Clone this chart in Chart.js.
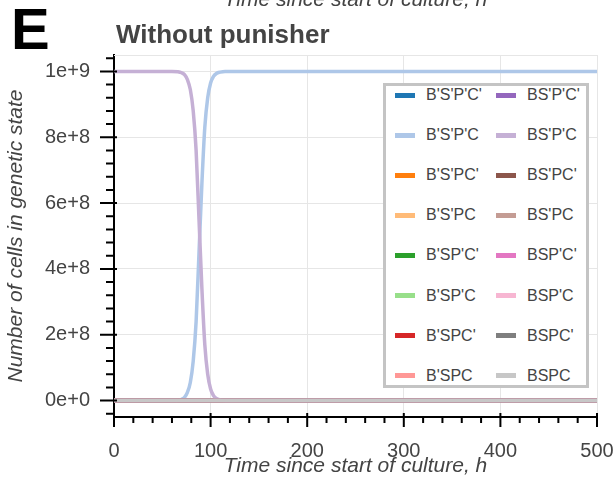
<!DOCTYPE html>
<html>
<head>
<meta charset="utf-8">
<script src="https://cdn.jsdelivr.net/npm/chart.js@4.4.1/dist/chart.umd.min.js"></script>
<style>
  body { margin: 0; background: #fff; font-family: "Liberation Sans", Arial, sans-serif; }
  #wrap { position: relative; width: 615px; height: 479px; overflow: hidden; }
  #chart { position: absolute; left: 0; top: 0; }
  .txt { position: absolute; line-height: 1; white-space: nowrap; }
  #panel { left: 11px; top: 0px; font-size: 58px; font-weight: bold; color: #000; }
  #title { left: 116px; top: 21px; font-size: 26px; font-weight: bold; color: #444; }
  #prev { left: 0; width: 711px; text-align: center; top: -12px; font-size: 21px; font-style: italic; color: #444; }
  #legend { position: absolute; left: 383px; top: 83px; width: 200px; height: 299px;
            border: 3px solid #c4c4c4; background: #fff; }
  .item { position: absolute; font-size: 16px; color: #444; line-height: 1; }
  .sw { position: absolute; width: 20px; height: 5px; }
</style>
</head>
<body>
<div id="wrap">
  <canvas id="chart" width="615" height="479"></canvas>
  <div class="txt" id="prev">Time since start of culture, h</div>
  <div class="txt" id="panel">E</div>
  <div class="txt" id="title">Without punisher</div>
  <div id="legend"></div>
</div>
<script>
// ==========================
// DATA
// ==========================

const stateLabels = [
    "B'S'P'C'", "B'S'P'C", "B'S'PC'", "B'S'PC",
    "B'SP'C'", "B'SP'C", "B'SPC'", "B'SPC",
    "BS'P'C'", "BS'P'C", "BS'PC'", "BS'PC",
    "BSP'C'", "BSP'C", "BSPC'", "BSPC"
];

const stateColors = [
    "#1f77b4", "#aec7e8", "#ff7f0e", "#ffbb78",
    "#2ca02c", "#98df8a", "#d62728", "#ff9896",
    "#9467bd", "#c5b0d5", "#8c564b", "#c49c94",
    "#e377c2", "#f7b6d2", "#7f7f7f", "#c7c7c7"
];

// hours
const times = [0, 60, 66, 70, 73, 76, 79, 82, 85, 88, 91, 94, 97, 100, 103, 106, 110, 115, 125, 500];

// B'S'P'C (takes over the culture)
const risingCounts = [
    0, 0, 1e6, 4e6, 1e7, 2.5e7, 5.5e7, 1.2e8, 2.4e8, 4.5e8,
    6.6e8, 8.3e8, 9.2e8, 9.65e8, 9.85e8, 9.94e8, 9.98e8, 1e9, 1e9, 1e9
];

// BS'P'C (starting population, dies out)
const fallingCounts = [
    1e9, 1e9, 9.99e8, 9.96e8, 9.9e8, 9.75e8, 9.45e8, 8.8e8, 7.6e8, 5.5e8,
    3.4e8, 1.7e8, 8e7, 3.5e7, 1.5e7, 6e6, 2e6, 0, 0, 0
];

// every other genetic state stays at zero
const zeroCounts = [0, 0, 0, 0, 0, 0, 0, 0, 0, 0, 0, 0, 0, 0, 0, 0, 0, 0, 0, 0];

const xTicks = [0, 100, 200, 300, 400, 500];
const yTicks = [0, 2e8, 4e8, 6e8, 8e8, 1e9];

// ==========================
// CHART
// ==========================

function seriesFor(i) {
    let values = zeroCounts;
    if (i === 1) values = risingCounts;
    if (i === 9) values = fallingCounts;
    return times.map((t, k) => ({ x: t, y: values[k] }));
}

const datasets = stateLabels.map((label, i) => ({
    label: label,
    data: seriesFor(i),
    borderColor: stateColors[i],
    backgroundColor: stateColors[i],
    borderWidth: 3.5,
    pointRadius: 0,
    cubicInterpolationMode: "monotone",
    order: -i
}));

// minor + major ticks, frame top/right
const frameTicks = {
    id: "frameTicks",
    afterDraw(chart) {
        const { ctx, chartArea: a, scales: { x, y } } = chart;
        ctx.save();
        ctx.strokeStyle = "#e6e6e6";
        ctx.lineWidth = 1;
        ctx.beginPath();
        ctx.moveTo(a.left, a.top + 0.5);
        ctx.lineTo(a.right + 0.5, a.top + 0.5);
        ctx.lineTo(a.right + 0.5, a.bottom);
        ctx.stroke();

        ctx.strokeStyle = "#000";
        ctx.lineWidth = 2;
        ctx.beginPath();
        for (let v = 0; v <= 500; v += 20) {
            const px = x.getPixelForValue(v);
            const major = v % 100 === 0;
            ctx.moveTo(px, a.bottom - (major ? 4 : 0));
            ctx.lineTo(px, a.bottom + (major ? 10 : 6));
        }
        for (let v = -4e7; v <= 1.04e9 + 1; v += 4e7) {
            const py = y.getPixelForValue(v);
            const major = Math.abs(v % 2e8) < 1;
            ctx.moveTo(a.left + (major ? 3 : 1), py);
            ctx.lineTo(a.left - (major ? 14 : 8), py);
        }
        ctx.stroke();
        ctx.restore();
    }
};

const tickFont = { family: "'Liberation Sans', Arial, sans-serif", size: 20 };
const titleFont = { family: "'Liberation Sans', Arial, sans-serif", size: 21, style: "italic" };

const chart = new Chart(document.getElementById("chart"), {
    type: "line",
    data: { datasets: datasets },
    options: {
        responsive: false,
        animation: false,
        layout: { padding: { top: 55, right: 18, left: 0, bottom: 0 } },
        plugins: {
            legend: { display: false },
            tooltip: { enabled: false }
        },
        scales: {
            x: {
                type: "linear",
                min: 0,
                max: 500,
                afterBuildTicks: s => { s.ticks = xTicks.map(v => ({ value: v })); },
                afterFit: s => { s.height = 62; s.paddingLeft = 0; s.paddingRight = 0; },
                grid: { color: "#e6e6e6", drawTicks: false },
                border: { display: true, color: "#000", width: 2 },
                ticks: { color: "#444", font: tickFont, padding: 22, maxRotation: 0 },
                title: {
                    display: true,
                    text: "Time since start of culture, h",
                    color: "#444",
                    font: titleFont,
                    padding: 0
                }
            },
            y: {
                type: "linear",
                min: -5e7,
                max: 1.05e9,
                afterBuildTicks: s => { s.ticks = yTicks.map(v => ({ value: v })); },
                afterFit: s => { s.width = 114; },
                grid: { color: "#e6e6e6", drawTicks: false },
                border: { display: true, color: "#000", width: 2 },
                ticks: {
                    color: "#444",
                    font: tickFont,
                    padding: 24,
                    callback: v => Number(v).toExponential(0)
                },
                title: {
                    display: true,
                    text: "Number of cells in genetic state",
                    color: "#444",
                    font: titleFont,
                    padding: 4
                }
            }
        }
    },
    plugins: [frameTicks]
});

// ==========================
// LEGEND (two columns, column-major)
// ==========================

const legendBox = document.getElementById("legend");
chart.data.datasets.forEach((ds, i) => {
    const col = Math.floor(i / 8);
    const row = i % 8;
    const cy = 9 + row * 40.1;
    const sw = document.createElement("div");
    sw.className = "sw";
    sw.style.background = ds.borderColor;
    sw.style.left = (9 + col * 101) + "px";
    sw.style.top = (cy - 2.5) + "px";
    legendBox.appendChild(sw);
    const lab = document.createElement("div");
    lab.className = "item";
    lab.textContent = ds.label;
    lab.style.left = (40 + col * 101) + "px";
    lab.style.top = (cy - 8) + "px";
    legendBox.appendChild(lab);
});
</script>
</body>
</html>
